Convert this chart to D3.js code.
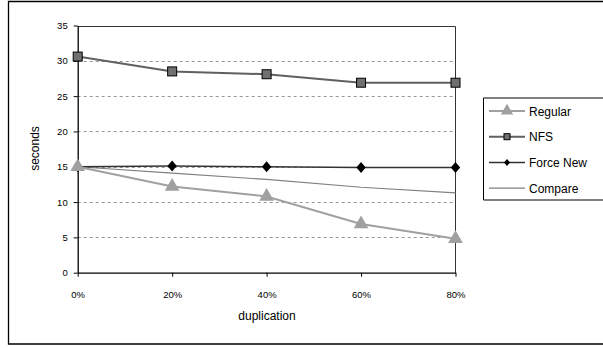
<!DOCTYPE html>
<html><head><meta charset="utf-8">
<script src="https://cdn.jsdelivr.net/npm/d3@7"></script>
<style>body{margin:0;background:#fff}svg{display:block}</style>
</head><body>
<script>
const categories = ["0%","20%","40%","60%","80%"];
const regular = [15, 12.2, 10.8, 6.9, 4.8];
const nfs = [30.6, 28.5, 28.1, 26.9, 26.9];
const forceNew = [15, 15.1, 15, 14.9, 14.9];
const compare = [15, 14.1, 13.2, 12.1, 11.3];
const yTicks = [0,5,10,15,20,25,30,35];

const W=603,H=348;
const svg=d3.select("body").append("svg").attr("width",W).attr("height",H);
// outer frame
svg.append("path").attr("d","M610,1.5 H8.5 V344 H610").attr("fill","none").attr("stroke","#000").attr("stroke-width",1.3);

const x=d3.scalePoint().domain(categories).range([77.7,455.5]);
const y=d3.scaleLinear().domain([0,35]).range([272.7,25.5]);

const g=svg.append("g");
g.selectAll("line.grid").data(yTicks.filter(d=>d>0&&d<35)).join("line")
 .attr("x1",77.7).attr("x2",455.5).attr("y1",d=>Math.round(y(d))+0.5).attr("y2",d=>Math.round(y(d))+0.5)
 .attr("stroke","#999").attr("stroke-dasharray","3,3").attr("stroke-width",1);
g.append("path").attr("d",`M77.7,${Math.round(y(35))+0.5} H455.5 V272.7`).attr("fill","none").attr("stroke","#333").attr("stroke-width",1);

const yAxis=d3.axisLeft(y).tickValues(yTicks).tickSize(4).tickSizeOuter(0);
const ya=g.append("g").attr("transform","translate(77.7,0)").call(yAxis);
const xAxis=d3.axisBottom(x).tickSize(4).tickSizeOuter(0);
const xa=g.append("g").attr("transform","translate(0,272.7)").call(xAxis);
[ya,xa].forEach(a=>{a.select(".domain").attr("stroke","#000").attr("stroke-width",1.3);
 a.selectAll(".tick line").attr("stroke","#000");
 a.selectAll("text").attr("font-family","Liberation Sans, Arial, sans-serif").attr("font-size",9.5).attr("fill","#000");});
ya.selectAll("text").attr("x",-10);
xa.selectAll("text").attr("dy","1.9em");

svg.append("text").attr("transform","translate(39,148.5) rotate(-90)").attr("text-anchor","middle")
 .attr("font-family","Liberation Sans, Arial, sans-serif").attr("font-size",12).attr("fill","#000").text("seconds");
svg.append("text").attr("x",267).attr("y",320).attr("text-anchor","middle")
 .attr("font-family","Liberation Sans, Arial, sans-serif").attr("font-size",12).attr("fill","#000").text("duplication");

const line=d3.line().x((d,i)=>x(categories[i])).y(d=>y(d));
const series=[
 {name:"Regular",data:regular,stroke:"#a0a0a0",w:2,marker:"tri",fill:"#a0a0a0"},
 {name:"NFS",data:nfs,stroke:"#606060",w:2,marker:"sq",fill:"#707070"},
 {name:"Force New",data:forceNew,stroke:"#333",w:1.5,marker:"dia",fill:"#000"},
 {name:"Compare",data:compare,stroke:"#808080",w:1.2,marker:null}
];
function marker(sel,type,fill,size){
 if(type==="tri") sel.append("path").attr("d",d3.symbol(d3.symbolTriangle,size*11)()).attr("fill",fill);
 else if(type==="sq") sel.append("rect").attr("x",-size/2).attr("y",-size/2).attr("width",size).attr("height",size).attr("fill",fill).attr("stroke","#000").attr("stroke-width",1);
 else if(type==="dia") sel.append("path").attr("d",`M0,${-size/2}L${size/2*0.85},0L0,${size/2}L${-size/2*0.85},0Z`).attr("fill",fill);
}
[series[3],series[2],series[0],series[1]].forEach(s=>{
 g.append("path").attr("d",line(s.data)).attr("fill","none").attr("stroke",s.stroke).attr("stroke-width",s.w);
 if(s.marker){
  s.data.forEach((v,i)=>{
   const m=g.append("g").attr("transform",`translate(${x(categories[i])},${y(v)})`);
   marker(m,s.marker,s.fill,s.marker==="sq"?9:(s.marker==="dia"?11:8.5));
  });
 }
});

const lg=svg.append("g");
lg.append("path").attr("d","M610,98 H483.5 V200 H610").attr("fill","#fff").attr("stroke","#000").attr("stroke-width",1);
series.forEach((s,i)=>{
 const yy=111+i*25.7;
 lg.append("line").attr("x1",489).attr("x2",525).attr("y1",yy).attr("y2",yy).attr("stroke",s.stroke).attr("stroke-width",s.w);
 if(s.marker){const m=lg.append("g").attr("transform",`translate(507,${yy})`);marker(m,s.marker,s.fill,s.marker==="dia"?7:6);}
 lg.append("text").attr("x",529).attr("y",yy+4.5).attr("font-family","Liberation Sans, Arial, sans-serif").attr("font-size",12).attr("fill","#000").text(s.name);
});
</script>
</body></html>
